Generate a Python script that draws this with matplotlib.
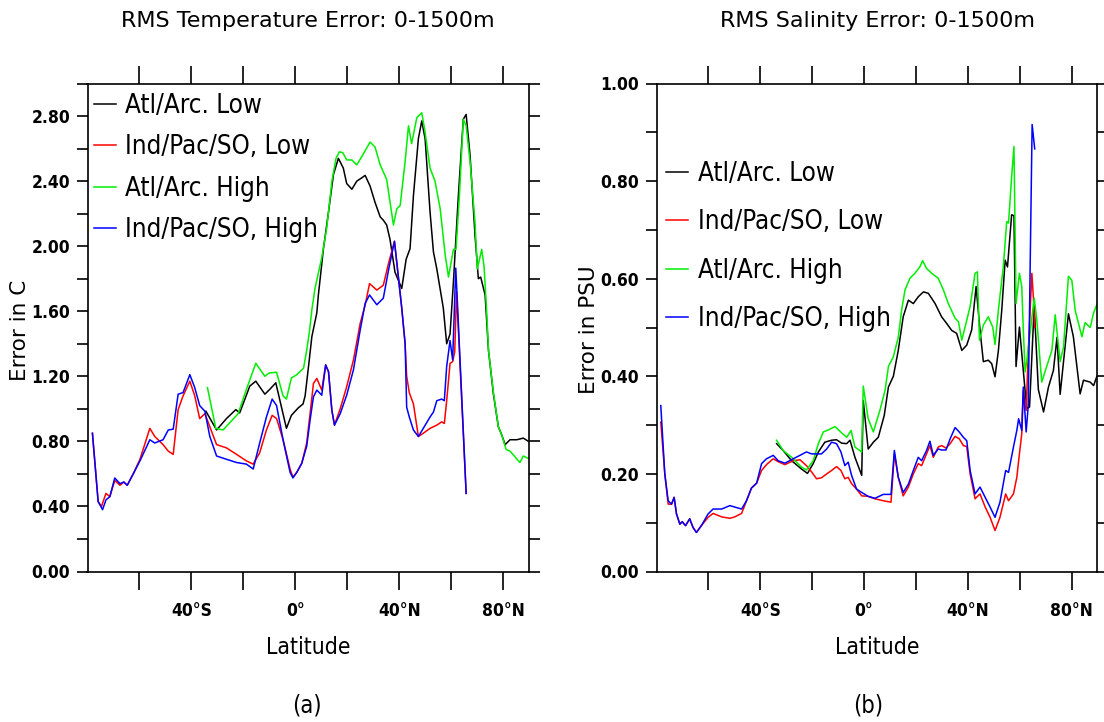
import matplotlib
matplotlib.use("Agg")
import matplotlib.pyplot as plt
from matplotlib import font_manager
from matplotlib.font_manager import FontProperties

# ---------------- data ----------------
# Temperature (left panel)
t_ipl_lat = [-78.1, -75.9, -74.6, -72.9, -71.4, -69.5, -67.5, -66.0, -64.7, -62.4, -59.8, -56.0, -54.1, -50.9, -48.9,
             -47.0, -45.1, -43.2, -40.6, -38.7, -36.8, -34.8, -32.9, -30.3, -26.5, -22.6, -18.8, -16.2, -13.7, -11.1,
             -8.9, -7.2, -4.7, -2.0, -0.9, 0.6, 2.5, 4.4, 5.7, 7.0, 8.3, 10.2, 11.7, 12.8, 14.1, 15.1, 17.3, 19.8,
             22.4, 25.0, 26.9, 28.6, 31.4, 33.9, 36.0, 38.2, 41.0, 42.3, 42.9, 43.9, 45.5, 47.4, 49.3, 51.9, 53.2,
             54.5, 56.4, 57.4, 58.3, 59.6, 60.6, 61.4, 62.1, 65.8]
t_ipl = [0.85, 0.43, 0.40, 0.48, 0.46, 0.56, 0.53, 0.55, 0.53, 0.60, 0.69, 0.88, 0.83, 0.78, 0.74,
         0.72, 0.995, 1.08, 1.17, 1.08, 0.94, 0.97, 0.89, 0.78, 0.76, 0.72, 0.68, 0.66, 0.73, 0.87,
         0.96, 0.94, 0.81, 0.63, 0.58, 0.61, 0.665, 0.79, 0.97, 1.156, 1.187, 1.115, 1.27, 1.228, 0.99, 0.90, 1.0, 1.136,
         1.30, 1.525, 1.637, 1.77, 1.73, 1.76, 1.90, 2.03, 1.62, 1.40, 1.20, 1.10, 1.03, 0.83, 0.85, 0.88, 0.89,
         0.90, 0.92, 0.91, 1.05, 1.28, 1.29, 1.35, 1.72, 0.48]

t_iph_lat = [-78.1, -75.9, -74.2, -72.9, -71.4, -69.5, -67.5, -66.0, -64.7, -62.4, -59.8, -56.0, -54.1, -50.9, -48.9,
             -47.0, -45.1, -43.2, -40.6, -38.7, -36.8, -34.8, -32.9, -30.3, -26.5, -22.6, -18.8, -16.2, -13.7, -11.1,
             -8.9, -7.2, -4.7, -2.0, -0.9, 0.6, 2.5, 4.4, 5.7, 7.0, 8.3, 10.2, 11.7, 12.8, 14.1, 15.1, 17.3, 19.8,
             22.4, 25.0, 26.9, 28.6, 31.4, 33.9, 36.0, 38.2, 41.0, 42.3, 42.9, 43.9, 45.5, 47.4, 49.3, 51.9, 53.2,
             54.5, 56.4, 57.4, 58.3, 59.6, 60.6, 61.8, 62.3, 65.8]
t_iph = [0.85, 0.43, 0.38, 0.44, 0.46, 0.575, 0.54, 0.55, 0.53, 0.60, 0.68, 0.81, 0.79, 0.81, 0.87,
         0.875, 1.09, 1.10, 1.21, 1.13, 1.02, 0.985, 0.83, 0.71, 0.69, 0.67, 0.66, 0.63, 0.79, 0.95,
         1.06, 1.02, 0.81, 0.61, 0.575, 0.61, 0.665, 0.77, 0.93, 1.074, 1.115, 1.084, 1.27, 1.228, 0.99, 0.90, 0.97, 1.084,
         1.24, 1.484, 1.648, 1.70, 1.64, 1.68, 1.86, 2.03, 1.62, 1.40, 1.01, 0.95, 0.87, 0.83, 0.88, 0.95, 0.98,
         1.05, 1.06, 1.05, 1.26, 1.42, 1.30, 1.865, 1.70, 0.48]

t_all_lat = [-34.4, -30.3, -26.5, -22.9, -21.4, -17.5, -15.2, -11.7, -9.8, -7.5, -3.4, -1.5, 1.1, 3.0, 3.8, 5.1, 6.4,
             8.3, 8.9, 10.85, 12.8, 14.7, 16.6, 18.5, 19.8, 21.8, 23.7, 25.6, 26.9, 28.8, 30.7, 32.7, 33.9, 35.2,
             36.5, 38.4, 41.0, 42.7, 44.2, 45.5, 47.4, 48.7, 50.0, 51.9, 53.2, 54.5, 57.0, 58.3, 59.6, 60.9, 62.8,
             64.7, 65.8, 67.3, 69.2, 70.5, 71.4, 73.1, 74.4, 76.3, 78.2, 79.5, 80.8, 82.7, 85.3, 87.8, 89.8]
t_all = [0.985, 0.87, 0.94, 0.995, 0.975, 1.14, 1.17, 1.09, 1.12, 1.16, 0.88, 0.96, 1.005, 1.03, 1.08, 1.26, 1.445,
         1.59, 1.70, 1.985, 2.21, 2.44, 2.54, 2.48, 2.385, 2.35, 2.40, 2.42, 2.435, 2.37, 2.27, 2.18, 2.16, 2.13,
         2.04, 1.84, 1.74, 1.92, 1.985, 2.31, 2.66, 2.77, 2.66, 2.21, 1.965, 1.86, 1.62, 1.40, 1.46, 1.78, 2.31,
         2.78, 2.81, 2.56, 2.07, 1.80, 1.81, 1.70, 1.36, 1.09, 0.89, 0.84, 0.78, 0.81, 0.81, 0.82, 0.80]

t_ahh_lat = [-33.8, -30.6, -27.8, -22.0, -18.8, -15.2, -11.7, -10.1, -7.2, -4.7, -3.4, -1.5, 0.6, 3.2, 4.4, 5.5, 6.4,
             7.6, 10.2, 12.1, 14.1, 15.7, 17.0, 18.3, 19.8, 21.8, 23.7, 25.6, 28.8, 30.7, 32.7, 35.2, 36.5, 37.8,
             39.1, 40.4, 42.3, 43.6, 44.8, 46.8, 48.7, 50.0, 51.9, 53.8, 55.8, 57.7, 59.0, 60.9, 61.9, 63.2, 64.7,
             65.8, 67.3, 69.2, 70.1, 71.8, 72.7, 73.7, 74.4, 76.3, 78.2, 79.5, 81.2, 82.7, 86.5, 87.8, 89.8]
t_ahh = [1.13, 0.88, 0.87, 0.97, 1.12, 1.28, 1.20, 1.22, 1.225, 1.08, 1.06, 1.19, 1.21, 1.25, 1.36, 1.48, 1.61,
         1.74, 1.93, 2.11, 2.40, 2.54, 2.58, 2.575, 2.53, 2.53, 2.50, 2.55, 2.64, 2.61, 2.50, 2.41, 2.27, 2.13,
         2.23, 2.25, 2.52, 2.74, 2.63, 2.79, 2.82, 2.70, 2.48, 2.40, 2.23, 1.95, 1.81, 1.98, 1.98, 2.31, 2.78,
         2.74, 2.52, 2.15, 1.86, 1.98, 1.875, 1.60, 1.36, 1.10, 0.89, 0.84, 0.75, 0.74, 0.67, 0.71, 0.695]

# Salinity (right panel)
s_ip_lat = [-78.35, -76.8, -75.5, -74.2, -73.2, -72.3, -71.0, -70.1, -68.8, -67.2, -65.9, -64.6, -62.7, -60.1, -58.2,
            -54.9, -51.7, -49.8, -47.2, -45.3, -43.4, -41.4, -39.5, -37.6, -35.0, -33.1, -30.5, -27.3, -24.7,
            -22.2, -20.2, -18.3, -16.4, -14.4, -12.5, -10.6, -8.9, -7.4, -6.1, -4.8, -2.9, -0.9, 1.6, 4.2, 7.4,
            10.4, 11.7, 13.2, 15.1, 17.1, 19.0, 20.9, 22.2, 24.1, 25.4, 26.7, 28.6, 29.9, 31.6, 33.2, 35.1, 36.7,
            38.3, 39.6, 40.9, 42.8, 44.7, 46.7, 48.6, 50.5, 52.4, 54.6, 55.7, 57.6, 58.9, 59.6, 60.8, 61.4]
s_ipl_lat = s_ip_lat + [62.5, 63.3, 64.7, 65.3, 65.8]
s_ipl = [0.306, 0.20, 0.138, 0.138, 0.152, 0.118, 0.097, 0.102, 0.094, 0.108, 0.090, 0.080, 0.094, 0.111, 0.119,
         0.112, 0.109, 0.112, 0.119, 0.145, 0.171, 0.181, 0.207, 0.219, 0.231, 0.225, 0.219, 0.227, 0.229,
         0.217, 0.204, 0.190, 0.192, 0.200, 0.207, 0.215, 0.207, 0.190, 0.193, 0.180, 0.169, 0.155, 0.154, 0.149, 0.145,
         0.142, 0.241, 0.193, 0.155, 0.173, 0.200, 0.221, 0.217, 0.241, 0.258, 0.234, 0.255, 0.258, 0.253, 0.262,
         0.277, 0.272, 0.258, 0.256, 0.200, 0.149, 0.159, 0.132, 0.111, 0.084, 0.111, 0.159, 0.145, 0.159, 0.193,
         0.227, 0.282, 0.371, 0.33, 0.45, 0.611, 0.56, 0.50]
s_iph_lat = s_ip_lat + [62.5, 63.3, 64.8, 65.8]
s_iph = [0.340, 0.20, 0.145, 0.138, 0.152, 0.118, 0.097, 0.102, 0.094, 0.108, 0.090, 0.080, 0.094, 0.118, 0.128,
         0.128, 0.135, 0.132, 0.128, 0.145, 0.171, 0.181, 0.221, 0.231, 0.238, 0.227, 0.222, 0.231, 0.238,
         0.245, 0.241, 0.241, 0.241, 0.251, 0.265, 0.262, 0.245, 0.217, 0.224, 0.197, 0.169, 0.162, 0.154, 0.150, 0.158,
         0.158, 0.248, 0.193, 0.162, 0.179, 0.207, 0.234, 0.227, 0.248, 0.267, 0.238, 0.251, 0.249, 0.249, 0.272,
         0.295, 0.286, 0.275, 0.268, 0.207, 0.159, 0.173, 0.152, 0.132, 0.111, 0.142, 0.207, 0.203, 0.255, 0.289,
         0.313, 0.289, 0.378, 0.286, 0.34, 0.916, 0.866]

s_all_lat = [-33.7, -31.2, -27.9, -24.1, -21.8, -19.6, -17.6, -15.1, -12.5, -10.6, -8.6, -6.7, -5.4, -3.5, -0.9,
             -0.3, 1.6, 3.6, 5.5, 7.8, 9.4, 11.3, 13.2, 15.1, 17.1, 19.0, 20.9, 22.9, 24.8, 27.4, 29.9, 31.9, 33.8,
             35.7, 37.7, 39.6, 41.5, 43.2, 44.7, 46.0, 47.9, 49.2, 50.5, 51.8, 53.1, 54.4, 55.3, 56.9, 57.8, 58.6,
             59.9, 62.7, 63.8, 65.6, 67.2, 69.2, 71.1, 73.0, 74.4, 75.6, 78.8, 80.7, 83.3, 84.6, 87.2, 88.5, 89.7]
s_all = [0.262, 0.248, 0.227, 0.210, 0.201, 0.221, 0.245, 0.265, 0.269, 0.270, 0.263, 0.262, 0.269, 0.234, 0.197,
         0.35, 0.251, 0.265, 0.275, 0.320, 0.378, 0.40, 0.453, 0.522, 0.556, 0.549, 0.563, 0.573, 0.570, 0.549,
         0.522, 0.508, 0.494, 0.488, 0.453, 0.464, 0.495, 0.584, 0.495, 0.430, 0.433, 0.426, 0.399, 0.453, 0.536,
         0.638, 0.624, 0.731, 0.729, 0.42, 0.501, 0.334, 0.337, 0.544, 0.373, 0.327, 0.378, 0.412, 0.48, 0.363,
         0.528, 0.481, 0.364, 0.392, 0.388, 0.381, 0.399]

s_ahh_lat = [-33.7, -31.2, -27.9, -24.1, -22.2, -19.6, -17.6, -15.7, -13.8, -11.2, -8.6, -6.7, -5.0, -3.5, -0.9,
             -0.3, 1.6, 3.6, 6.1, 8.1, 9.4, 11.3, 13.2, 14.5, 15.8, 17.7, 19.6, 21.6, 22.6, 24.1, 26.1, 28.6, 30.6,
             32.5, 35.1, 36.4, 37.7, 40.9, 42.8, 43.7, 44.5, 46.0, 47.9, 49.6, 50.5, 51.8, 53.7, 55.0, 55.7, 56.9,
             57.8, 58.6, 59.9, 60.8, 61.4, 62.1, 62.7, 65.6, 66.6, 68.5, 70.4, 72.4, 73.7, 75.6, 76.9, 78.8, 80.1,
             81.4, 82.7, 84.0, 85.2, 87.2, 88.5, 90.0]
s_ahh = [0.269, 0.248, 0.234, 0.214, 0.208, 0.227, 0.262, 0.286, 0.290, 0.297, 0.284, 0.275, 0.289, 0.255, 0.245,
         0.38, 0.313, 0.286, 0.330, 0.371, 0.42, 0.44, 0.48, 0.536, 0.577, 0.601, 0.611, 0.625, 0.637, 0.621,
         0.611, 0.601, 0.577, 0.549, 0.519, 0.512, 0.474, 0.543, 0.611, 0.614, 0.474, 0.505, 0.522, 0.501, 0.465,
         0.536, 0.625, 0.717, 0.714, 0.809, 0.871, 0.549, 0.611, 0.584, 0.495, 0.409, 0.43, 0.56, 0.516, 0.388,
         0.42, 0.453, 0.526, 0.43, 0.46, 0.605, 0.597, 0.535, 0.508, 0.481, 0.51, 0.50, 0.53, 0.55]

series_labels = ["Atl/Arc. Low", "Ind/Pac/SO, Low", "Atl/Arc. High", "Ind/Pac/SO, High"]
series_colors = ["#000000", "#ff0000", "#00ee00", "#0000ff"]
xtick_pos = [-60, -40, -20, 0, 20, 40, 60, 80]
xtick_lbl = ["", "40°S", "", "0°", "", "40°N", "", "80°N"]

# ---------------- fonts: prefer a narrow/condensed face ----------------
def find_narrow(bold):
    best = None
    for f in font_manager.fontManager.ttflist:
        key = (f.name + " " + f.fname).lower()
        narrowish = ("narrow" in key or "condensed" in key or
                     f.stretch in ("condensed", "semi-condensed", "extra-condensed"))
        if not narrowish or "mono" in key or "italic" in key or "oblique" in key or f.style != "normal":
            continue
        w = f.weight if isinstance(f.weight, int) else (700 if "bold" in str(f.weight) else 400)
        if bold and w < 600:
            continue
        if not bold and w >= 600:
            continue
        score = 0
        if "liberation" in key: score += 3
        if "dejavu" in key: score += 2
        if "semi" in key: score -= 1
        if "extra" in key or "ultra" in key: score -= 2
        if best is None or score > best[0]:
            best = (score, f.fname)
    return best[1] if best else None

reg_path = find_narrow(False)
bold_path = find_narrow(True)
SCALE = 1.0 if reg_path else 0.88   # shrink if only a normal-width face exists


def fp(size, bold=False):
    path = bold_path if bold else reg_path
    if path:
        return FontProperties(fname=path, size=size)
    return FontProperties(family="DejaVu Sans", size=size * SCALE, weight="bold" if bold else "normal")


def fp_wide(size):
    return FontProperties(family="DejaVu Sans", size=size)


W, H = 1104, 722
fig = plt.figure(figsize=(W / 100, H / 100), dpi=100)


def px_axes(x0, y0, w, h):
    return fig.add_axes([x0 / W, 1 - (y0 + h) / H, w / W, h / H])


TICK_FS = 12.5


def style(ax, ymax, ystep, ylabel_every):
    ax.set_xlim(-80, 90)
    ax.set_ylim(0, ymax)
    ax.set_xticks(xtick_pos)
    ax.set_xticklabels(xtick_lbl, fontproperties=fp(TICK_FS, True))
    n = int(round(ymax / ystep))
    yt = [i * ystep for i in range(n + 1)]
    ax.set_yticks(yt)
    ax.set_yticklabels([("%.2f" % v) if (i % ylabel_every == 0) else "" for i, v in enumerate(yt)],
                       fontproperties=fp(TICK_FS, True))
    ax.tick_params(axis="x", direction="out", length=13, width=1.2, top=True, bottom=True, pad=9)
    ax.tick_params(axis="y", direction="out", length=8, width=1.2, left=True, right=True, pad=4.5)
    for s in ax.spines.values():
        s.set_linewidth(1.2)


LEG_FS = 18.6

# ---------------- left panel ----------------
axL = px_axes(87.5, 83.5, 441.5, 488)
for lat, val, lab, c in [(t_all_lat, t_all, series_labels[0], series_colors[0]),
                         (t_ipl_lat, t_ipl, series_labels[1], series_colors[1]),
                         (t_ahh_lat, t_ahh, series_labels[2], series_colors[2]),
                         (t_iph_lat, t_iph, series_labels[3], series_colors[3])]:
    axL.plot(lat, val, color=c, lw=1.1, label=lab)
style(axL, 3.0, 0.2, 2)
axL.legend(loc="upper left", bbox_to_anchor=(0.0, 0.994), frameon=False,
           prop=fp(LEG_FS), handlelength=0.85, handletextpad=0.35,
           labelspacing=0.60, borderaxespad=0.15, borderpad=0.1)

# ---------------- right panel ----------------
axR = px_axes(656.5, 83.5, 441, 488)
for lat, val, lab, c in [(s_all_lat, s_all, series_labels[0], series_colors[0]),
                         (s_ipl_lat, s_ipl, series_labels[1], series_colors[1]),
                         (s_ahh_lat, s_ahh, series_labels[2], series_colors[2]),
                         (s_iph_lat, s_iph, series_labels[3], series_colors[3])]:
    axR.plot(lat, val, color=c, lw=1.1, label=lab)
style(axR, 1.0, 0.1, 2)
axR.legend(loc="upper left", bbox_to_anchor=(0.0, 0.860), frameon=False,
           prop=fp(LEG_FS), handlelength=0.88, handletextpad=0.39,
           labelspacing=0.87, borderaxespad=0.25, borderpad=0.1)

# ---------------- texts ----------------
def ftext(x, y, s, prop, **kw):
    fig.text(x / W, 1 - y / H, s, ha="center", va="center", fontproperties=prop, **kw)

ftext(308, 21, "RMS Temperature Error: 0-1500m", fp_wide(16))
ftext(877, 21, "RMS Salinity Error: 0-1500m", fp_wide(16))
ftext(308, 648, "Latitude", fp(16.5))
ftext(877, 648, "Latitude", fp(16.5))
ftext(307, 705, "(a)", fp(17))
ftext(868, 705, "(b)", fp(17))
ftext(20, 330, "Error in C", fp_wide(15.5), rotation=90)
ftext(589, 330, "Error in PSU", fp_wide(15.5), rotation=90)

fig.savefig("out.png", dpi=100)
